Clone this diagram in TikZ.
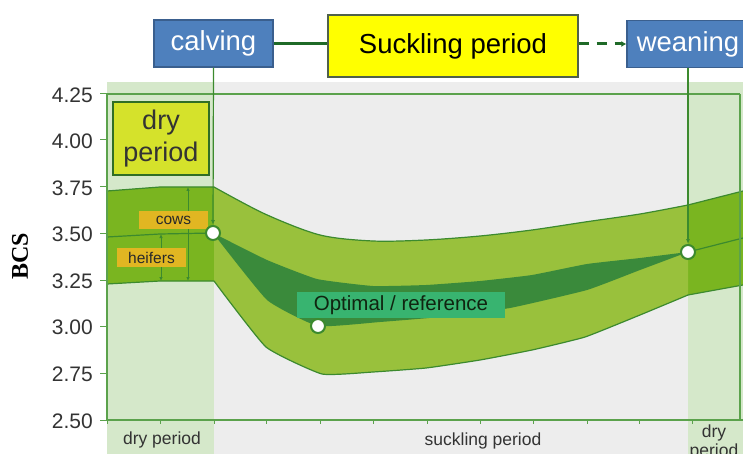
\documentclass[tikz,border=0pt]{standalone}
\usepackage{fontspec}
\setmainfont{Liberation Sans}
\newfontfamily\serifbcs{Liberation Serif}
\usetikzlibrary{arrows.meta}
\definecolor{bgray}{HTML}{EDEDED}
\definecolor{drybg}{HTML}{D5E8CA}
\definecolor{axisgreen}{HTML}{5BA24C}
\definecolor{dryband}{HTML}{7AB520}
\definecolor{suckband}{HTML}{99C13C}
\definecolor{optdark}{HTML}{3A8A3B}
\definecolor{edgegreen}{HTML}{3C8A2E}
\definecolor{boxblue}{HTML}{4E80BD}
\definecolor{boxblueborder}{HTML}{3A5F8E}
\definecolor{yel}{HTML}{FFFF00}
\definecolor{yelborder}{HTML}{50614A}
\definecolor{dryboxfill}{HTML}{D5E22B}
\definecolor{labor}{HTML}{E1B622}
\definecolor{optlab}{HTML}{38B470}
\definecolor{conn}{HTML}{1F6A28}
\definecolor{txt}{HTML}{333333}
\tikzset{
  bluebox/.style={draw=boxblueborder, line width=1.2pt, fill=boxblue, text=white, inner sep=0pt,
    font=\fontsize{27.5}{30}\selectfont},
  yelbox/.style={draw=yelborder, line width=1.2pt, fill=yel, text=black, inner sep=0pt,
    font=\fontsize{27.5}{30}\selectfont},
  drybox/.style={draw=edgegreen!80!black, line width=1.5pt, fill=dryboxfill, text=txt, inner sep=0pt,
    align=center, font=\fontsize{27}{32}\selectfont},
  tag/.style={fill=labor, text=txt!80!black, inner sep=0pt, font=\fontsize{15.5}{17}\selectfont},
  optbox/.style={fill=optlab, text=txt!80!green!40!black, inner sep=0pt, font=\fontsize{20.5}{22}\selectfont},
  ylab/.style={anchor=east, text=txt, inner sep=0pt, font=\fontsize{21}{22}\selectfont},
  xlab/.style={text=txt, inner sep=0pt, align=center, font=\fontsize{17.5}{19}\selectfont},
  dot/.style={circle, draw=edgegreen, line width=2pt, fill=white, minimum size=14pt, inner sep=0pt},
  axisline/.style={draw=axisgreen, line width=1.3pt},
  bandedge/.style={draw=edgegreen, line width=1.2pt},
  vline/.style={draw=edgegreen, line width=1.2pt, -{Latex[length=5pt,width=4pt]}},
  dbl/.style={draw=edgegreen, line width=0.9pt, {Latex[length=4pt,width=3.5pt]}-{Latex[length=4pt,width=3.5pt]}},
}
\begin{document}
\begin{tikzpicture}[x=1pt,y=-1pt]
\useasboundingbox (0,0) rectangle (743,454);
\fill[white] (0,0) rectangle (743,454);
% backgrounds
\fill[bgray] (214,82) rectangle (688,454);
\fill[drybg] (107,82) rectangle (214,454);
\fill[drybg] (688,82) rectangle (743,454);
% bands
\fill[dryband] (107,191) -- (160,187) -- (214,187) -- (214,281) -- (160,281) -- (107,284) -- cycle;
\fill[dryband] (688,205) -- (743,191) -- (743,285) -- (688,295) -- cycle;
\fill[suckband] plot[smooth, tension=0.5] coordinates {(214,187) (265,214) (320,235) (373,241) (426,240) (480,236) (532,230) (585,222) (640,214) (688,205)}
  -- plot[smooth, tension=0.25] coordinates {(688,295) (640,315) (585,337) (532,350) (480,360) (426,368) (373,372) (322,374) (266,347) (214,281)} -- cycle;
\fill[optdark] plot[smooth, tension=0.25] coordinates {(213,233) (267,260) (317,279) (373,286) (426,285) (480,281) (532,275) (587,264) (640,258) (688,252)}
  -- plot[smooth, tension=0.25] coordinates {(688,252) (640,270) (587,290) (510,308) (440,317) (380,322) (318,326) (267,300) (213,233)} -- cycle;
% band edges
\draw[bandedge] (107,191) -- (160,187) -- (214,187);
\draw[bandedge] plot[smooth, tension=0.5] coordinates {(214,187) (265,214) (320,235) (373,241) (426,240) (480,236) (532,230) (585,222) (640,214) (688,205)};
\draw[bandedge] (688,205) -- (743,191);
\draw[bandedge] (107,284) -- (160,281) -- (214,281);
\draw[bandedge] plot[smooth, tension=0.25] coordinates {(214,281) (266,347) (322,374) (373,372) (426,368) (480,360) (532,350) (585,337) (640,315) (688,295)};
\draw[bandedge] (688,295) -- (743,285);
\draw[bandedge] (107,237) -- (160,234) -- (213,233);
\draw[bandedge] (688,252) -- (743,238);
% axes
\draw[axisline] (107,94) -- (740,94);
\draw[axisline] (740,94) -- (740,420);
\draw[axisline] (107,94) -- (107,420);
\draw[axisline] (107,420) -- (743,420);
\foreach \x in {107,160,214,266,320,373,427,480,533,587,639,692}
  \draw[axisgreen, line width=1pt] (\x,420) -- (\x,424);
\foreach \v/\y [count=\i] in {4.25/94,4.00/140,3.75/187,3.50/233,3.25/280,3.00/326,2.75/373,2.50/420}{
  \draw[axisgreen, line width=1pt] (100,\y) -- (107,\y);
  \node[ylab] (yl\i) at (93,\y+1) {\v};
}
% cows / heifers arrows
\coordinate (cowtop) at (188,187);
\coordinate (cowbot) at (188,281);
\coordinate (heitop) at (161,234);
\coordinate (heibot) at (161,281);
\draw[dbl] (cowtop) -- (cowbot);
\draw[dbl] (heitop) -- (heibot);
\node[tag, minimum width=69pt, minimum height=18pt] (cows) at (173.5,220) {cows};
\node[tag, minimum width=69pt, minimum height=19pt] (heifers) at (151.5,257.5) {heifers};
% top boxes
\node[bluebox, minimum width=119pt, minimum height=47pt] (calving) at (213.5,43.5) {calving};
\node[yelbox, minimum width=250pt, minimum height=62pt] (suck) at (453,46) {Suckling period};
\node[bluebox, minimum width=122pt, minimum height=47pt] (wean) at (688,44) {weaning};
\draw[conn, line width=3pt] (calving.east) -- (calving.east -| suck.west);
\draw[conn, line width=3pt, dash pattern=on 10pt off 8pt, -{Latex[length=5pt,width=6pt]}] (suck.east |- wean.west) -- (wean.west);
% dry period box
\node[drybox, minimum width=96pt, minimum height=73pt] (dryp) at (161,138.5) {dry\\period};
% optimal label
\node[optbox, minimum width=208pt, minimum height=26pt] (opt) at (401,305) {Optimal / reference};
% points
\node[dot] (c1) at (213,233) {};
\node[dot] (c2) at (318,326) {};
\node[dot] (c3) at (688,252) {};
\draw[vline] (calving.south) -- (c1.north);
\draw[vline] (wean.south) -- (c3.north);
% bottom labels
\node[xlab] (xdry1) at (162,440) {dry period};
\node[xlab] (xsuck) at (483,441) {suckling period};
\node[xlab, anchor=north] (xdry2) at (714,424.5) {dry\\period};
% y label
\node[rotate=90, inner sep=0pt, font=\serifbcs\bfseries\fontsize{24}{24}\selectfont] (bcs) at (20,256) {BCS};
\end{tikzpicture}
\end{document}
